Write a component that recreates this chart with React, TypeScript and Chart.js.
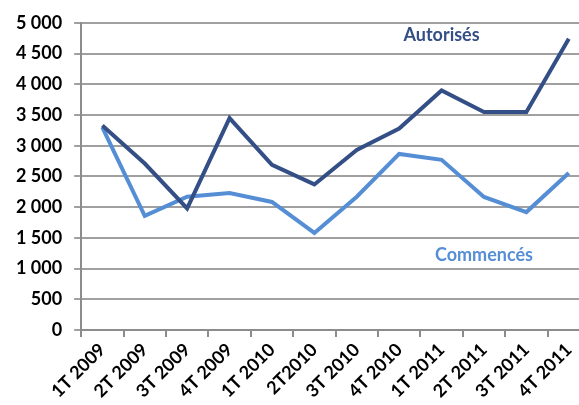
import React, { useEffect, useRef } from "react";
import { Chart, registerables } from "chart.js";

Chart.register(...registerables);

const categories = [
  "1T 2009", "2T 2009", "3T 2009", "4T 2009",
  "1T 2010", "2T2010", "3T 2010", "4T 2010",
  "1T 2011", "2T 2011", "3T 2011", "4T 2011",
];
const autorises = [3330, 2710, 1980, 3450, 2690, 2370, 2930, 3280, 3900, 3550, 3550, 4740];
const commences = [3300, 1860, 2170, 2230, 2085, 1580, 2170, 2866, 2770, 2166, 1920, 2557];
const seriesLabels = [
  { text: "Autorisés", index: 8, value: 4800, color: "#344E86" },
  { text: "Commencés", index: 9, value: 1220, color: "#558ED5" },
];

const fmt = (v: number) => String(v).replace(/\B(?=(\d{3})+(?!\d))/g, " ");

const labelPlugin = {
  id: "seriesLabels",
  afterDatasetsDraw(chart: any) {
    const { ctx, scales } = chart;
    ctx.save();
    ctx.font = "bold 18px Lato";
    ctx.textAlign = "center";
    ctx.textBaseline = "middle";
    for (const l of seriesLabels) {
      ctx.fillStyle = l.color;
      ctx.fillText(l.text, scales.x.getPixelForValue(l.index), scales.y.getPixelForValue(l.value));
    }
    ctx.restore();
  },
};

export default function App() {
  const ref = useRef<HTMLCanvasElement>(null);
  useEffect(() => {
    const chart = new Chart(ref.current!, {
      type: "line",
      data: {
        labels: categories,
        datasets: [
          { label: "Autorisés", data: autorises, borderColor: "#344E86", borderWidth: 4, pointRadius: 0, tension: 0 },
          { label: "Commencés", data: commences, borderColor: "#558ED5", borderWidth: 4, pointRadius: 0, tension: 0 },
        ],
      },
      options: {
        animation: false,
        responsive: false,
        layout: { padding: { top: 14, left: 4, right: 0, bottom: 0 } },
        plugins: { legend: { display: false }, tooltip: { enabled: false } },
        scales: {
          x: {
            offset: true,
            grid: { offset: true, drawOnChartArea: false, drawTicks: true, tickLength: 7, color: "#8C8C8C", lineWidth: 2 },
            border: { color: "#8C8C8C", width: 2 },
            ticks: { maxRotation: 45, minRotation: 45, color: "#000", font: { family: "Lato", size: 18, weight: "bold" }, autoSkip: false, padding: 2 },
          },
          y: {
            min: 0,
            max: 5000,
            grid: { color: "#A0A0A0", lineWidth: 2, tickLength: 7 },
            border: { color: "#8C8C8C", width: 2 },
            ticks: { stepSize: 500, color: "#000", font: { family: "Lato", size: 18, weight: "bold" }, padding: 12, callback: (v: any) => fmt(Number(v)) },
          },
        },
      },
      plugins: [labelPlugin],
    });
    return () => chart.destroy();
  }, []);
  return (
    <div style={{ position: "absolute", left: 0, top: 0, width: 579, height: 405, overflow: "hidden", background: "#fff" }}>
      <canvas ref={ref} width={590} height={404} />
    </div>
  );
}
